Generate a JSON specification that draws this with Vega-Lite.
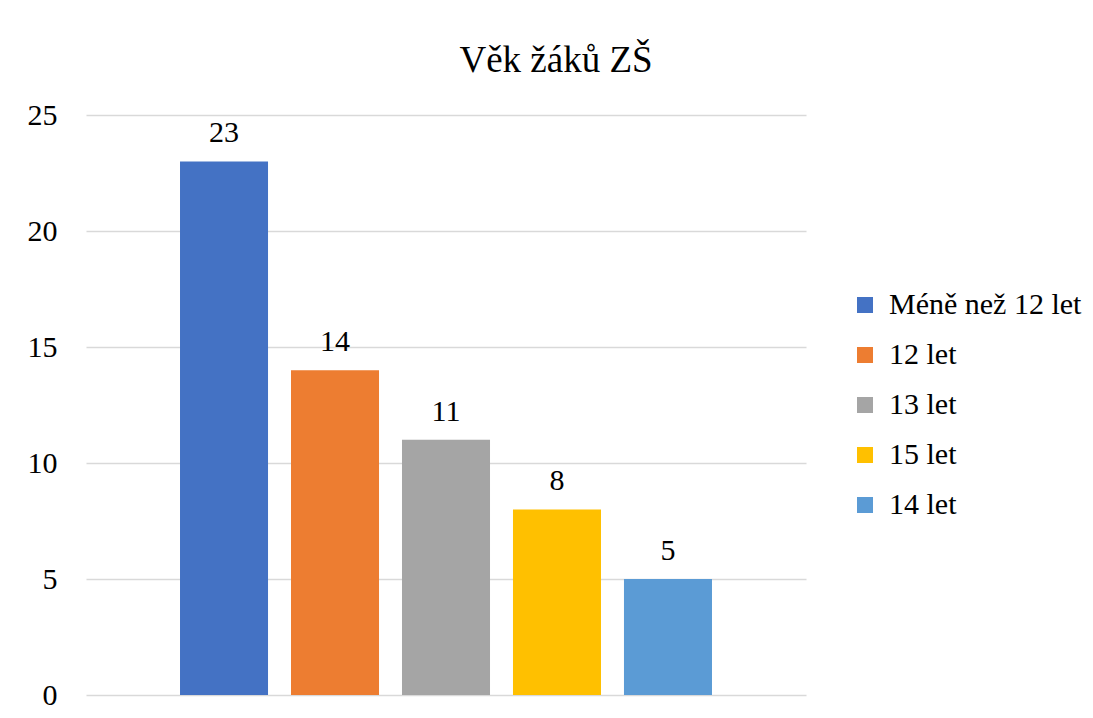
{
  "$schema": "https://vega.github.io/schema/vega-lite/v6.json",
  "width": 720,
  "height": 580,
  "autosize": {"type": "none"},
  "padding": {"left": 86, "top": 115, "right": 287, "bottom": 23},
  "background": "white",
  "title": {
    "text": "Věk žáků ZŠ",
    "font": "'Liberation Serif', 'DejaVu Serif', serif",
    "fontSize": 37,
    "fontWeight": "normal",
    "color": "#000000",
    "anchor": "middle",
    "dx": 110,
    "dy": 37,
    "baseline": "alphabetic",
    "offset": 28
  },
  "data": {
    "values": [
      {"kategorie": "Méně než 12 let", "pocet": 23},
      {"kategorie": "12 let", "pocet": 14},
      {"kategorie": "13 let", "pocet": 11},
      {"kategorie": "15 let", "pocet": 8},
      {"kategorie": "14 let", "pocet": 5}
    ]
  },
  "encoding": {
    "x": {
      "field": "kategorie",
      "type": "nominal",
      "sort": null,
      "axis": null,
      "scale": {"paddingInner": 0.207, "paddingOuter": 0.847}
    },
    "y": {
      "field": "pocet",
      "type": "quantitative",
      "scale": {"domain": [0, 25], "nice": false},
      "axis": {
        "title": null,
        "values": [0, 5, 10, 15, 20, 25],
        "domain": false,
        "ticks": false,
        "labelFont": "'Liberation Serif', 'DejaVu Serif', serif",
        "labelFontSize": 30,
        "labelColor": "#000000",
        "labelPadding": 29,
        "grid": true,
        "gridColor": "#D9D9D9",
        "gridWidth": 1.3
      }
    }
  },
  "layer": [
    {
      "mark": {"type": "bar"},
      "encoding": {
        "color": {
          "field": "kategorie",
          "type": "nominal",
          "sort": null,
          "scale": {
            "domain": ["Méně než 12 let", "12 let", "13 let", "15 let", "14 let"],
            "range": ["#4472C4", "#ED7D31", "#A5A5A5", "#FFC000", "#5B9BD5"]
          },
          "legend": {
            "title": null,
            "orient": "none",
            "legendX": 764,
            "legendY": 175,
            "symbolType": "square",
            "symbolSize": 256,
            "symbolStrokeWidth": 0,
            "labelFont": "'Liberation Serif', 'DejaVu Serif', serif",
            "labelFontSize": 30,
            "labelColor": "#000000",
            "labelOffset": 9,
            "rowPadding": 20,
            "labelLimit": 400
          }
        }
      }
    },
    {
      "mark": {
        "type": "text",
        "font": "'Liberation Serif', 'DejaVu Serif', serif",
        "fontSize": 30,
        "color": "#000000",
        "baseline": "alphabetic",
        "align": "center",
        "dy": -19
      },
      "encoding": {
        "text": {"field": "pocet", "type": "quantitative"}
      }
    }
  ],
  "config": {
    "view": {"stroke": null}
  }
}
